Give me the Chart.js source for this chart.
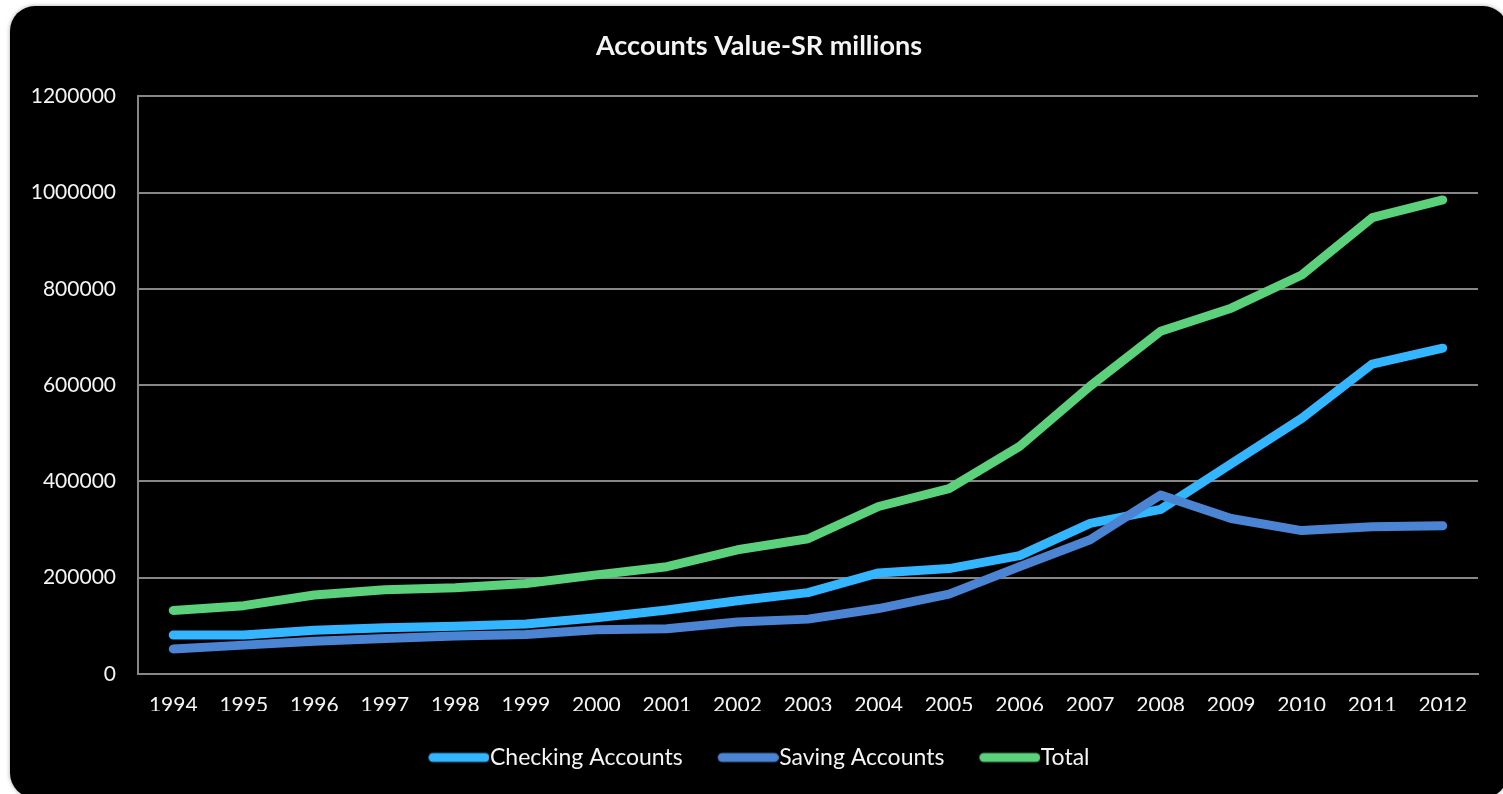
<!DOCTYPE html>
<html>
<head>
<meta charset="utf-8">
<title>Accounts Value-SR millions</title>
<script src="https://cdn.jsdelivr.net/npm/chart.js@4/dist/chart.umd.min.js"></script>
<style>
  html, body { margin: 0; padding: 0; background: #fff; overflow: hidden; }
  #box {
    position: absolute;
    left: 10px;
    top: 6px;
    width: 1498px;
    height: 792px;
    background: #000;
    border-radius: 25px;
    overflow: hidden;
    box-shadow: 0 0 4px rgba(0, 0, 0, 0.35);
  }
  #chart { display: block; }
</style>
</head>
<body>
<div id="box"><canvas id="chart" width="1498" height="795"></canvas></div>
<script>
// years on the x axis
const years = ['1994', '1995', '1996', '1997', '1998', '1999', '2000', '2001', '2002', '2003',
               '2004', '2005', '2006', '2007', '2008', '2009', '2010', '2011', '2012'];

// account values, SR millions
const checking = [81000, 81000, 91000, 96000, 99000, 104000, 117000, 133000, 152000, 169000,
                  210000, 219000, 246000, 313000, 342000, 437000, 531000, 644000, 677000];
const saving = [52000, 60000, 68000, 74000, 79000, 82000, 92000, 94000, 108000, 114000,
                136000, 166000, 223000, 279000, 372000, 323000, 298000, 306000, 308000];
const total = [132000, 142000, 164000, 175000, 179000, 188000, 206000, 223000, 258000, 281000,
               348000, 385000, 473000, 598000, 712000, 760000, 829000, 948000, 985000];

const seriesNames = ['Checking Accounts', 'Saving Accounts', 'Total'];
const seriesColors = ['#33b6ff', '#4a84d2', '#5ad17a'];

const yMax = 1200000;
const yStep = 200000;

const fontFamily = 'Lato, "Open Sans", sans-serif';
const textColor = '#f4f4f4';
const gridColor = '#878787';
const LINE_W = 9;

function makeDataset(i, values, order) {
    return {
        label: seriesNames[i],
        data: values,
        borderColor: seriesColors[i],
        backgroundColor: seriesColors[i],
        borderWidth: LINE_W,
        borderCapStyle: 'round',
        borderJoinStyle: 'round',
        pointRadius: 0,
        pointHoverRadius: 0,
        tension: 0,
        fill: false,
        order: order
    };
}

// legend key: a thick rounded line, drawn a bit wider than the box so it
// reaches the label text
const KEY_BOX = 50;
const KEY_LINE = 61;
function keyImage(color) {
    const c = document.createElement('canvas');
    const w = 2 * (KEY_LINE - KEY_BOX / 2);
    c.width = w;
    c.height = 12;
    const g = c.getContext('2d');
    g.strokeStyle = color;
    g.lineWidth = LINE_W;
    g.lineCap = 'round';
    g.beginPath();
    g.moveTo(w - KEY_LINE + LINE_W / 2, 6);
    g.lineTo(w - LINE_W / 2, 6);
    g.stroke();
    return c;
}
const keyImages = seriesColors.map(keyImage);

function legendLabels(chart) {
    const items = Chart.defaults.plugins.legend.labels.generateLabels(chart);
    items.forEach(item => {
        item.pointStyle = keyImages[item.datasetIndex];
    });
    return items;
}

const ctx = document.getElementById('chart').getContext('2d');
const chart = new Chart(ctx, {
    type: 'line',
    data: {
        labels: years,
        datasets: [
            makeDataset(0, checking, 3),
            makeDataset(1, saving, 2),
            makeDataset(2, total, 1)
        ]
    },
    options: {
        responsive: false,
        animation: false,
        layout: {
            padding: { top: 24, left: 0, right: 0, bottom: 22 }
        },
        plugins: {
            title: {
                display: true,
                text: 'Accounts Value-SR millions',
                color: textColor,
                font: { family: fontFamily, size: 27, weight: 'bold' },
                padding: { top: 0, bottom: 34 }
            },
            legend: {
                position: 'bottom',
                labels: {
                    color: textColor,
                    font: { family: fontFamily, size: 23 },
                    usePointStyle: true,
                    pointStyleWidth: KEY_BOX,
                    padding: 35,
                    generateLabels: legendLabels,
                    sort: (a, b) => a.datasetIndex - b.datasetIndex
                }
            },
            tooltip: { enabled: false }
        },
        scales: {
            x: {
                offset: true,
                grid: { display: false, drawTicks: false },
                border: { display: true, color: gridColor, width: 2 },
                ticks: {
                    color: textColor,
                    font: { family: fontFamily, size: 21 },
                    padding: 19,
                    maxRotation: 0,
                    autoSkip: false
                },
                afterFit: scale => { scale.height = 37; }
            },
            y: {
                min: 0,
                max: yMax,
                grid: { color: gridColor, lineWidth: 2, drawTicks: false },
                border: { display: true, color: gridColor, width: 2 },
                ticks: {
                    stepSize: yStep,
                    color: textColor,
                    font: { family: fontFamily, size: 21 },
                    padding: 22,
                    callback: v => String(v)
                },
                afterFit: scale => { scale.width = 128; }
            },
            // empty right-hand axis that only reserves the margin
            yRight: {
                position: 'right',
                min: 0,
                max: yMax,
                grid: { display: false, drawTicks: false },
                border: { display: false },
                ticks: { display: false },
                afterFit: scale => { scale.width = 30; }
            }
        }
    }
});
</script>
</body>
</html>
